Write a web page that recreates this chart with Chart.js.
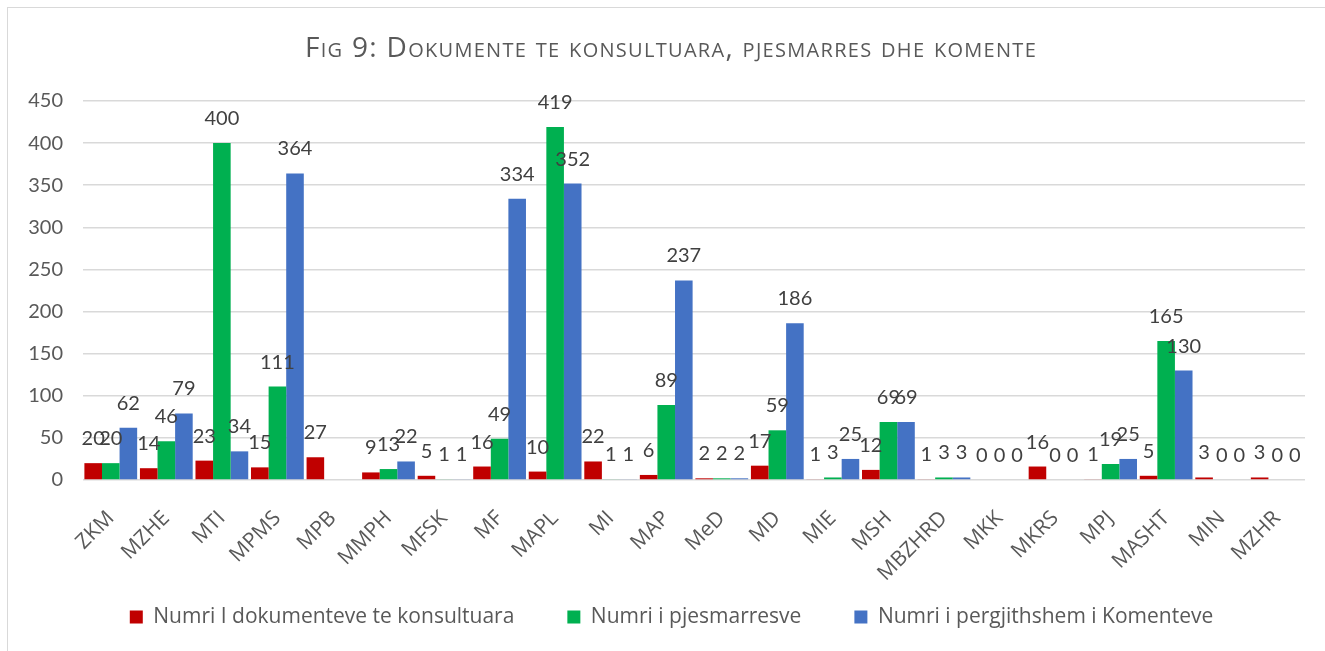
<!DOCTYPE html>
<html>
<head>
<meta charset="utf-8">
<script src="https://cdn.jsdelivr.net/npm/chart.js@4/dist/chart.umd.min.js"></script>
<style>
  html, body { margin: 0; padding: 0; background: #fff; overflow: hidden; }
  #wrap { position: relative; width: 1325px; height: 651px; overflow: hidden; }
  #frame { position: absolute; left: 7px; top: 7px; width: 1340px; height: 670px; border: 1px solid #d9d9d9; box-sizing: border-box; }
  canvas { position: absolute; left: 0; top: 0; }
</style>
</head>
<body>
<div id="wrap">
  <div id="frame"></div>
  <canvas id="c" width="1325" height="651"></canvas>
</div>
<script>
const categories = ["ZKM","MZHE","MTI","MPMS","MPB","MMPH","MFSK","MF","MAPL","MI","MAP","MeD","MD","MIE","MSH","MBZHRD","MKK","MKRS","MPJ","MASHT","MIN","MZHR"];
const dokumente   = [20, 14, 23, 15, 27, 9, 5, 16, 10, 22, 6, 2, 17, 1, 12, 1, 0, 16, 1, 5, 3, 3];
const pjesmarres  = [20, 46, 400, 111, null, 13, 1, 49, 419, 1, 89, 2, 59, 3, 69, 3, 0, 0, 19, 165, 0, 0];
const komente     = [62, 79, 34, 364, null, 22, 1, 334, 352, 1, 237, 2, 186, 25, 69, 3, 0, 0, 25, 130, 0, 0];
const seriesNames = ["Numri I dokumenteve te konsultuara", "Numri i pjesmarresve", "Numri i pergjithshem i Komenteve"];
const yTicks = [0, 50, 100, 150, 200, 250, 300, 350, 400, 450];
const titleText = "Fig 9: Dokumente te konsultuara, pjesmarres dhe komente";

const FONT = "Lato, 'Open Sans', sans-serif";
const WIDE_FONT = "'Open Sans', Lato, sans-serif";

const valueLabels = {
  id: 'valueLabels',
  afterDatasetsDraw(chart) {
    const ctx = chart.ctx;
    ctx.save();
    ctx.font = "20px " + FONT;
    ctx.fillStyle = "#404040";
    ctx.textAlign = "center";
    ctx.textBaseline = "alphabetic";
    chart.data.datasets.forEach((ds, i) => {
      const meta = chart.getDatasetMeta(i);
      meta.data.forEach((bar, j) => {
        const v = ds.data[j];
        if (v === null || v === undefined) return;
        ctx.fillText(String(v), bar.x, bar.y - 18);
      });
    });
    ctx.restore();
  }
};

const smallCapsTitle = {
  id: 'smallCapsTitle',
  afterDraw(chart) {
    const ctx = chart.ctx;
    ctx.save();
    ctx.font = "28px " + WIDE_FONT;
    if ('fontVariantCaps' in ctx) ctx.fontVariantCaps = 'small-caps';
    if ('letterSpacing' in ctx) ctx.letterSpacing = '1.3px';
    ctx.fillStyle = "#595959";
    ctx.textAlign = "center";
    ctx.textBaseline = "alphabetic";
    ctx.fillText(titleText, 671, 57);
    if ('fontVariantCaps' in ctx) ctx.fontVariantCaps = 'normal';
    if ('letterSpacing' in ctx) ctx.letterSpacing = '0px';
    ctx.restore();
  }
};

const LEGEND_PAD = 53;
const LEGEND_FONT_SIZE = 21;
const LEGEND_CENTER_Y = 617;
const LEGEND_SHIFT = 15;
const legendPlace = {
  id: 'legendPlace',
  afterLayout(chart) {
    const lg = chart.legend;
    if (!lg) return;
    lg.left += LEGEND_SHIFT;
    lg.right += LEGEND_SHIFT;
    const h = LEGEND_FONT_SIZE + LEGEND_PAD + 10;
    lg.top = LEGEND_CENTER_Y - LEGEND_PAD - LEGEND_FONT_SIZE / 2;
    lg.bottom = lg.top + h;
    lg.height = h;
  }
};

new Chart(document.getElementById('c'), {
  type: 'bar',
  data: {
    labels: categories,
    datasets: [
      { label: seriesNames[0], data: dokumente, backgroundColor: '#C00000' },
      { label: seriesNames[1], data: pjesmarres, backgroundColor: '#00B050' },
      { label: seriesNames[2], data: komente, backgroundColor: '#4472C4' }
    ]
  },
  options: {
    responsive: false,
    animation: false,
    datasets: { bar: { categoryPercentage: 0.95, barPercentage: 1.0 } },
    layout: { padding: { left: 8, right: 20, top: 101, bottom: 14 } },
    plugins: {
      title: { display: false },
      legend: {
        position: 'bottom',
        maxHeight: 40,
        labels: {
          color: '#595959',
          font: { family: WIDE_FONT, size: LEGEND_FONT_SIZE },
          boxWidth: 13,
          boxHeight: 13,
          padding: LEGEND_PAD
        }
      },
      tooltip: { enabled: false }
    },
    scales: {
      x: {
        grid: { display: false },
        border: { display: false },
        ticks: {
          color: '#595959',
          font: { family: WIDE_FONT, size: 21 },
          maxRotation: 45,
          minRotation: 45,
          autoSkip: false,
          padding: 18
        },
        afterFit(scale) { scale.height = 117; }
      },
      y: {
        min: 0,
        max: 450,
        afterBuildTicks(scale) { scale.ticks = yTicks.map(v => ({ value: v })); },
        grid: { color: '#d9d9d9', lineWidth: 1.5, drawTicks: false },
        border: { display: false },
        ticks: {
          color: '#595959',
          font: { family: FONT, size: 20 },
          padding: 20
        },
        afterFit(scale) { scale.width = 75; }
      }
    }
  },
  plugins: [valueLabels, smallCapsTitle, legendPlace]
});
</script>
</body>
</html>
